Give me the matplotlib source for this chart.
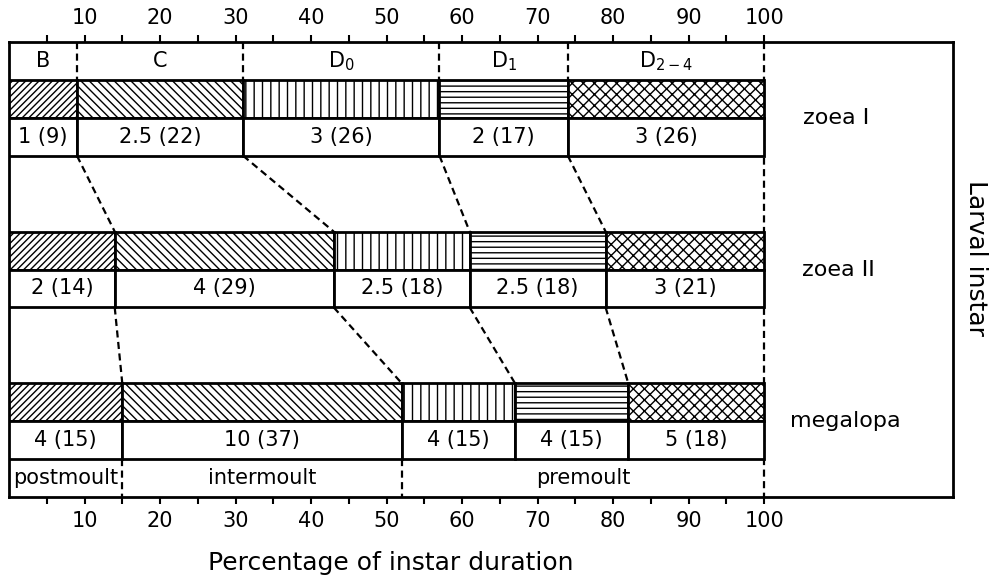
import matplotlib
matplotlib.use('Agg')
import matplotlib.pyplot as plt
import numpy as np

# moult stages (header) and larval instars
stages = ['B', 'C', 'D$_0$', 'D$_1$', 'D$_{2-4}$']
instars = ['zoea I', 'zoea II', 'megalopa']

# duration in days and (percentage of instar duration) per stage
days_zoea1 = [1, 2.5, 3, 2, 3]
pct_zoea1 = [9, 22, 26, 17, 26]
days_zoea2 = [2, 4, 2.5, 2.5, 3]
pct_zoea2 = [14, 29, 18, 18, 21]
days_mega = [4, 10, 4, 4, 5]
pct_mega = [15, 37, 15, 15, 18]

# moult phases, given as number of stages of the megalopa in each
phases = ['postmoult', 'intermoult', 'premoult']
phase_nstages = [1, 1, 3]

hatches = ['/////', '\\\\\\\\', '||', '---', 'xxx']

plt.rcParams['font.family'] = 'DejaVu Sans'
plt.rcParams['mathtext.default'] = 'regular'
plt.rcParams['hatch.linewidth'] = 1.0
FS = 15

fig = plt.figure(figsize=(9.91, 5.79), dpi=100)
ax = fig.add_axes([9/991, 82/579, 944/991, 455/579])
ax.set_xlim(0, 125)
ax.set_ylim(12, 0)

dash = dict(color='black', lw=1.6, dashes=(3.2, 2))

all_days = [days_zoea1, days_zoea2, days_mega]
all_pct = [pct_zoea1, pct_zoea2, pct_mega]
row_top = [1, 5, 9]
label_x = [105.2, 105.0, 103.4]
cums = []

# dashed line at 100 % through whole figure
ax.plot([100, 100], [0, 12], zorder=1, **dash)

for k in range(3):
    days = all_days[k]
    pct = all_pct[k]
    cum = np.cumsum(pct)
    left = cum - np.array(pct)
    cums.append(cum)
    top = row_top[k]
    bars = ax.barh([top]*5, pct, height=1, left=left, align='edge',
                   color='white', edgecolor='black', lw=2, zorder=3)
    for b, h in zip(bars, hatches):
        b.set_hatch(h)
    ax.barh([top+1]*5, pct, height=1, left=left, align='edge',
            color='white', edgecolor='black', lw=2, zorder=3)
    for l, p, d in zip(left, pct, days):
        ax.text(l + p/2, top + 1.5, '{:g} ({})'.format(d, p), ha='center', va='center',
                fontsize=FS, zorder=4)
    ax.text(label_x[k], top + 1, instars[k], ha='left', va='center', fontsize=16)

# header with stage names over zoea I
left1 = cums[0] - np.array(pct_zoea1)
for l, p, s in zip(left1, pct_zoea1, stages):
    ax.text(l + p/2, 0.5, s, ha='center', va='center', fontsize=FS)
for x in cums[0][:-1]:
    ax.plot([x, x], [0, 1], zorder=1, **dash)

# connectors between instars
for k in range(2):
    for x0, x1 in zip(cums[k][:-1], cums[k+1][:-1]):
        ax.plot([x0, x1], [row_top[k] + 2, row_top[k+1]], zorder=2, **dash)

# moult phases below megalopa
idx = np.cumsum(phase_nstages) - 1
pb = np.concatenate([[0], cums[2][idx]])
for i, ph in enumerate(phases):
    ax.text((pb[i] + pb[i+1])/2, 11.5, ph, ha='center', va='center', fontsize=FS)
for x in pb[1:-1]:
    ax.plot([x, x], [11, 12], zorder=1, **dash)

ax.set_xticks(np.arange(10, 101, 10))
ax.set_xticks(np.arange(5, 100, 10), minor=True)
ax.set_yticks([])
ax.tick_params(which='both', top=True, labeltop=True, direction='out',
               length=5, width=1.5, pad=5, labelsize=FS)
for s in ax.spines.values():
    s.set_linewidth(2)

ax.text(50.5, 13.75, 'Percentage of instar duration', ha='center', va='center',
        fontsize=18, clip_on=False)
ax.text(128, 5.7, 'Larval instar', rotation=270, ha='center', va='center',
        fontsize=18, clip_on=False)

fig.savefig('out.png', dpi=100)
